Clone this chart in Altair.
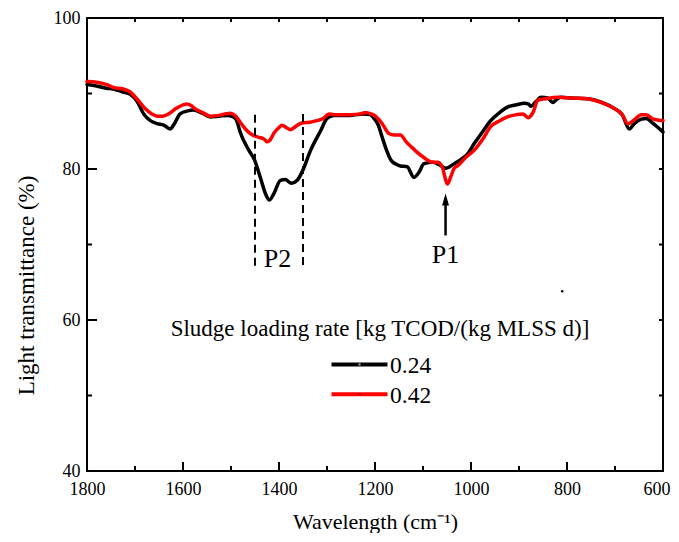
import altair as alt
import pandas as pd

# ---------------- data ----------------
series_names = ["0.24", "0.42"]
series_colors = ["#000000", "#ff0000"]

black_wn = [1800, 1780, 1760, 1745, 1725, 1710, 1695, 1682, 1668, 1654, 1640, 1627, 1618, 1606,
            1590, 1578, 1560, 1543, 1525, 1508, 1495, 1488, 1481, 1463, 1451, 1439, 1428, 1420,
            1411, 1397, 1387, 1374, 1362, 1352, 1334, 1313, 1300, 1286, 1251, 1223, 1210, 1202,
            1193, 1185, 1176, 1167, 1155, 1147, 1133, 1119, 1108, 1098, 1080, 1067, 1053, 1035,
            1020, 1007, 993, 975, 959, 940, 924, 905, 889, 880, 875, 865, 854, 840, 830, 820,
            813, 790, 757, 730, 701, 685, 670, 660, 645, 635, 620, 600]
black_val = [91.2, 91.0, 90.7, 90.6, 90.2, 89.9, 88.9, 87.3, 86.4, 86.0, 85.8, 85.3, 86.0, 87.3,
             87.7, 87.8, 87.4, 86.9, 87.0, 87.1, 86.9, 86.4, 84.9, 82.5, 81.2, 78.9, 76.7, 75.9,
             76.7, 78.5, 78.6, 78.1, 78.5, 79.6, 82.5, 85.1, 86.7, 87.1, 87.1, 87.3, 87.2, 86.7,
             85.8, 84.2, 82.5, 81.2, 80.6, 80.4, 80.3, 78.9, 79.6, 80.7, 80.9, 80.6, 80.1, 80.7,
             81.3, 82.0, 83.4, 85.0, 86.4, 87.5, 88.2, 88.5, 88.7, 88.6, 88.3, 88.9, 89.5, 89.4,
             88.8, 89.3, 89.5, 89.4, 89.3, 88.9, 88.0, 87.2, 85.3, 86.0, 86.6, 86.7, 86.0, 84.9]

red_wn = [1800, 1780, 1760, 1745, 1725, 1710, 1695, 1679, 1665, 1654, 1642, 1630, 1615, 1600,
          1592, 1583, 1575, 1560, 1543, 1525, 1512, 1501, 1490, 1481, 1470, 1460, 1442, 1432,
          1424, 1418, 1411, 1400, 1394, 1385, 1376, 1368, 1362, 1352, 1335, 1321, 1308, 1296,
          1285, 1270, 1251, 1230, 1220, 1208, 1199, 1185, 1171, 1160, 1147, 1135, 1122, 1112,
          1100, 1091, 1080, 1070, 1060, 1053, 1049, 1042, 1035, 1028, 1010, 993, 975, 959, 940,
          924, 905, 892, 881, 870, 861, 845, 819, 790, 757, 743, 720, 701, 685, 673, 662, 645,
          635, 620, 600]
red_val = [91.6, 91.5, 91.2, 90.8, 90.6, 90.2, 89.2, 88.0, 87.3, 87.0, 87.0, 87.3, 88.0, 88.5,
           88.6, 88.4, 88.0, 87.5, 87.0, 87.1, 87.3, 87.4, 87.0, 86.2, 85.3, 84.7, 84.2, 84.0,
           83.6, 83.9, 84.7, 85.5, 85.8, 85.5, 85.2, 85.5, 85.8, 86.1, 86.2, 86.4, 86.7, 87.3,
           87.2, 87.2, 87.2, 87.3, 87.5, 87.3, 87.0, 86.0, 84.7, 84.5, 84.5, 83.6, 82.8, 82.2,
           81.6, 81.2, 80.9, 80.9, 80.3, 78.6, 78.0, 79.0, 80.1, 80.4, 81.6, 82.5, 84.0, 85.6, 86.4,
           86.9, 87.2, 87.3, 86.8, 87.6, 89.1, 89.3, 89.5, 89.4, 89.3, 89.1, 88.6, 88.0, 87.2, 86.0,
           86.4, 87.2, 87.2, 86.6, 86.4]

x_major = [1800, 1600, 1400, 1200, 1000, 800, 600]
x_minor = [1700, 1500, 1300, 1100, 900, 700]
x_all = [1800, 1700, 1600, 1500, 1400, 1300, 1200, 1100, 1000, 900, 800, 700, 600]
y_major = [40, 60, 80, 100]
y_minor = [50, 70, 90]
y_all = [40, 50, 60, 70, 80, 90, 100]

dashed_wn = [1450, 1350]
dashed_top = [87.2, 87.3]
dashed_bottom = [66.8, 66.8]

peak_labels = ["P2", "P1"]
peak_wn = [1403, 1053]
peak_val = [67.0, 67.6]

arrow_wn = [1053]
arrow_head_val = [75.95]
arrow_tail_val = [71.2]

dot_wn = [810]
dot_val = [63.8]

legend_title = "Sludge loading rate [kg TCOD/(kg MLSS d)]"
x_title = "Wavelength (cm\u207b\u00b9)"
y_title = "Light transmittance (%)"

# ---------------- layout ----------------
W, H = 576, 453
FONT = "Liberation Serif"

df = pd.concat([
    pd.DataFrame({"wn": black_wn, "val": black_val, "series": series_names[0]}),
    pd.DataFrame({"wn": red_wn, "val": red_val, "series": series_names[1]}),
])

xs = alt.Scale(domain=[600, 1800], reverse=True, nice=False, zero=False)
ys = alt.Scale(domain=[40, 100], nice=False, zero=False)

x_axis = alt.Axis(values=x_major, format="d", title=x_title, grid=False, ticks=False, domain=False,
                  labelFont=FONT, labelFontSize=18, labelColor="black", labelPadding=9,
                  labelFlush=False, labelOverlap=False,
                  labelAlign={"condition": {"test": "datum.value == 600", "value": "right"},
                              "value": "center"},
                  labelOffset={"condition": {"test": "datum.value == 600", "value": 7},
                               "value": 0},
                  titleFont=FONT, titleFontSize=22, titleFontWeight="normal", titleColor="black",
                  titleY=57.5, titleBaseline="alphabetic")
y_axis = alt.Axis(values=y_major, format="d", title=y_title, grid=False, ticks=False, domain=False,
                  labelFont=FONT, labelFontSize=18, labelColor="black", labelPadding=7,
                  labelFlush=False, labelOverlap=False,
                  titleFont=FONT, titleFontSize=23, titleFontWeight="normal", titleColor="black",
                  titleAngle=-90, titleX=-54, titleY=267, titleAlign="center",
                  titleBaseline="alphabetic")


def xq(field="v"):
    return alt.X(f"{field}:Q", scale=xs, axis=x_axis)


def yq(field="v"):
    return alt.Y(f"{field}:Q", scale=ys, axis=y_axis)


lines = alt.Chart(df).mark_line(strokeWidth=3.5, interpolate="monotone",
                                strokeJoin="round", strokeCap="round").encode(
    x=xq("wn"),
    y=yq("val"),
    color=alt.Color("series:N", scale=alt.Scale(domain=series_names, range=series_colors),
                    legend=None),
)

# ticks (inward)
bot_major = alt.Chart(pd.DataFrame({"v": x_major})).mark_rule(color="black", strokeWidth=2).encode(
    x=xq(), y=alt.value(H), y2=alt.value(H - 9))
bot_minor = alt.Chart(pd.DataFrame({"v": x_minor})).mark_rule(color="black", strokeWidth=2).encode(
    x=xq(), y=alt.value(H), y2=alt.value(H - 5))
top_ticks = alt.Chart(pd.DataFrame({"v": x_all})).mark_rule(color="black", strokeWidth=2).encode(
    x=xq(), y=alt.value(0), y2=alt.value(4))
left_major = alt.Chart(pd.DataFrame({"v": y_major})).mark_rule(color="black", strokeWidth=2).encode(
    y=yq(), x=alt.value(0), x2=alt.value(10))
left_minor = alt.Chart(pd.DataFrame({"v": y_minor})).mark_rule(color="black", strokeWidth=2).encode(
    y=yq(), x=alt.value(0), x2=alt.value(5))
right_ticks = alt.Chart(pd.DataFrame({"v": y_all})).mark_rule(color="black", strokeWidth=2).encode(
    y=yq(), x=alt.value(W), x2=alt.value(W - 4))

# dashed P2 band
dashed = alt.Chart(pd.DataFrame({"wn": dashed_wn, "top": dashed_top, "bot": dashed_bottom})).mark_rule(
    color="black", strokeWidth=2, strokeDash=[8, 5]).encode(
    x=xq("wn"), y=yq("top"), y2="bot:Q")

# P1 arrow
arrow_df = pd.DataFrame({"wn": arrow_wn, "head": arrow_head_val, "tail": arrow_tail_val})
arrow_shaft = alt.Chart(arrow_df).mark_rule(color="black", strokeWidth=2.5).encode(
    x=xq("wn"), y=yq("head"), y2="tail:Q")
arrow_head = alt.Chart(arrow_df).mark_point(
    shape="M0,-1L0.58,1L-0.58,1Z", filled=True, color="black", opacity=1, size=144).encode(
    x=xq("wn"), y=yq("head"))

peaks = alt.Chart(pd.DataFrame({"t": peak_labels, "wn": peak_wn, "val": peak_val})).mark_text(
    font=FONT, fontSize=26, color="black", align="center", baseline="alphabetic").encode(
    x=xq("wn"), y=yq("val"), text="t:N")

stray = alt.Chart(pd.DataFrame({"wn": dot_wn, "val": dot_val})).mark_point(
    filled=True, color="black", size=6, opacity=1).encode(x=xq("wn"), y=yq("val"))

# legend (manual)
leg_title = alt.Chart(pd.DataFrame({"t": [legend_title]})).mark_text(
    font=FONT, fontSize=23, color="black", align="center", baseline="alphabetic").encode(
    x=alt.value(293), y=alt.value(318), text="t:N")

legend_layers = []
dot_colors = ["#888888", "#b00000"]
for i, (name, col) in enumerate(zip(series_names, series_colors)):
    yy = 346.5 + i * 29.7
    d = pd.DataFrame({"t": [name]})
    legend_layers.append(alt.Chart(d).mark_rule(color=col, strokeWidth=4).encode(
        x=alt.value(244.5), x2=alt.value(300.5), y=alt.value(yy)))
    legend_layers.append(alt.Chart(d).mark_point(filled=True, color=dot_colors[i], size=7, opacity=1).encode(
        x=alt.value(272.5), y=alt.value(yy)))
    legend_layers.append(alt.Chart(d).mark_text(
        font=FONT, fontSize=23.5, color="black", align="left", baseline="alphabetic").encode(
        x=alt.value(303), y=alt.value(yy + 8.5), text="t:N"))

chart = alt.layer(
    lines, bot_major, bot_minor, top_ticks, left_major, left_minor, right_ticks,
    dashed, arrow_shaft, arrow_head, peaks, stray, leg_title, *legend_layers
).properties(
    width=W, height=H,
    autosize=alt.AutoSizeParams(type="none"),
    padding={"left": 79, "top": 10, "right": 8, "bottom": 62},
    background="white",
).configure_view(stroke="black", strokeWidth=2)

chart.save("out.html", embed_options={"renderer": "svg", "actions": False})
